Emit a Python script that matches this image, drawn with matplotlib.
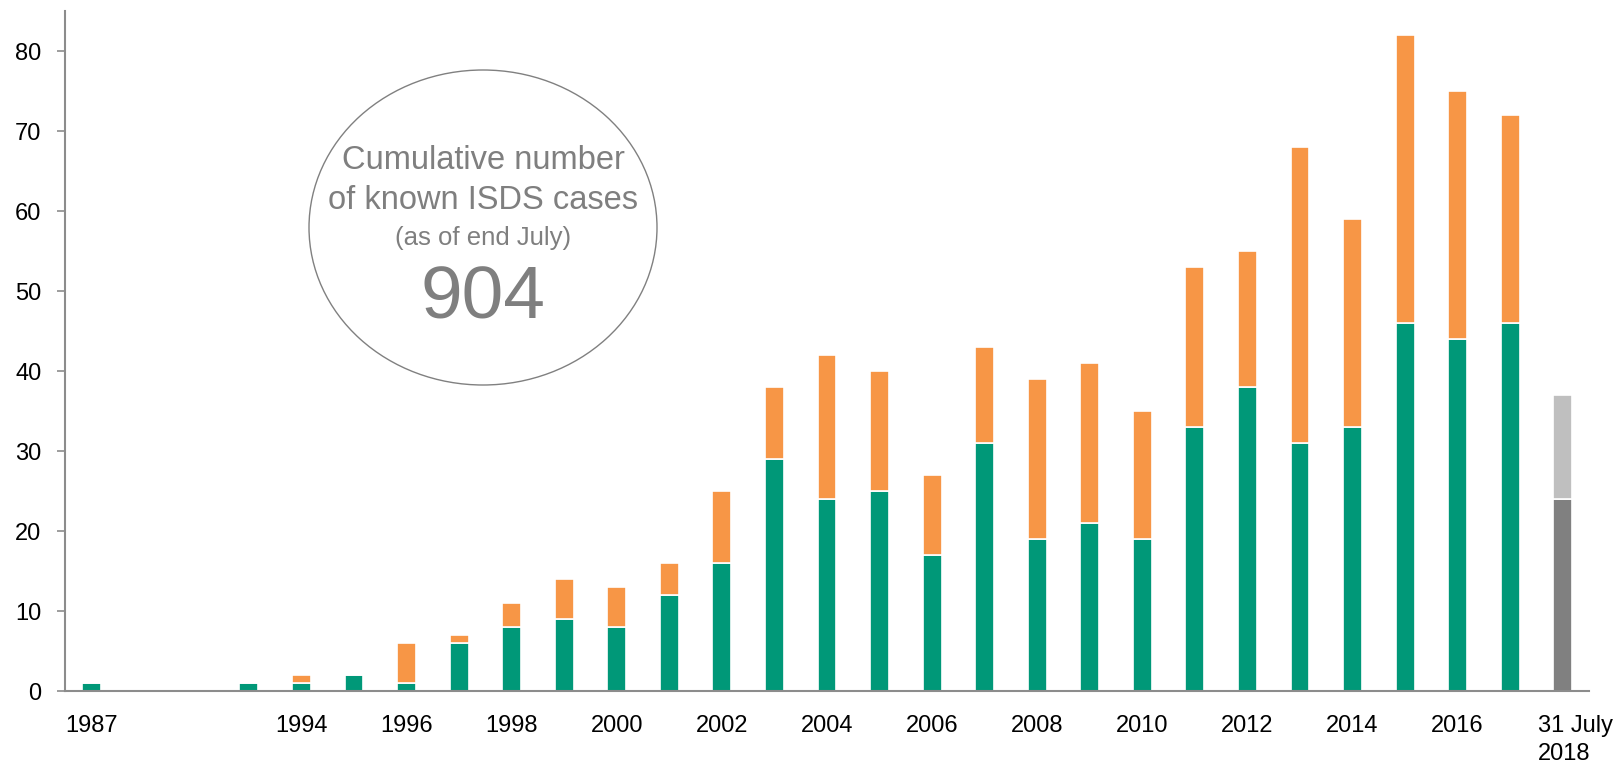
import matplotlib
matplotlib.use("Agg")
import matplotlib.pyplot as plt
from matplotlib.patches import Ellipse
import numpy as np

# known ISDS cases per year: green = first segment, orange = remainder
years = [1987, 1993, 1994, 1995, 1996, 1997, 1998, 1999, 2000, 2001, 2002,
         2003, 2004, 2005, 2006, 2007, 2008, 2009, 2010, 2011, 2012, 2013,
         2014, 2015, 2016, 2017]
green = [1, 1, 1, 2, 1, 6, 8, 9, 8, 12, 16, 29, 24, 25, 17, 31, 19, 21, 19,
         33, 38, 31, 33, 46, 44, 46]
total = [1, 1, 2, 2, 6, 7, 11, 14, 13, 16, 25, 38, 42, 40, 27, 43, 39, 41,
         35, 53, 55, 68, 59, 82, 75, 72]
# partial year up to 31 July 2018
part_low = 24
part_total = 37

tick_years = [1987, 1994, 1996, 1998, 2000, 2002, 2004, 2006, 2008, 2010,
              2012, 2014, 2016]

GREEN = "#009878"
ORANGE = "#f79646"
DARK = "#808080"
LIGHT = "#bfbfbf"
AXIS = "#8c8c8c"

plt.rcParams['font.family'] = ['Liberation Sans', 'DejaVu Sans']


def slot(y):
    # 1987 sits three slots before 1993, the years in between are left out
    return 0 if y == 1987 else y - 1990


fig = plt.figure(figsize=(16.16, 7.65), dpi=100)
ax = fig.add_axes([65 / 1616, 1 - 691 / 765, (1589 - 65) / 1616, (691 - 11) / 765])

x = np.array([slot(y) for y in years])
green = np.array(green)
total = np.array(total)
w = 0.36

ax.bar(x, green, width=w, color=GREEN, edgecolor="white", linewidth=1.2)
ax.bar(x, total - green, bottom=green, width=w, color=ORANGE,
       edgecolor="white", linewidth=1.2)
x18 = slot(2018)
ax.bar(x18, part_low, width=w, color=DARK, edgecolor="white", linewidth=1.2)
ax.bar(x18, part_total - part_low, bottom=part_low, width=w, color=LIGHT,
       edgecolor="white", linewidth=1.2)

ax.set_xlim(-0.5, 28.5)
ax.set_ylim(0, 85)
ax.set_yticks(range(0, 81, 10))
ax.tick_params(axis='y', length=6, width=1.2, color=AXIS, pad=11,
               labelsize=17)
ax.set_xticks([slot(y) for y in tick_years])
ax.set_xticklabels([str(y) for y in tick_years])
ax.tick_params(axis='x', length=0, pad=17, labelsize=17)

ax.annotate("31 July\n2018", xy=(x18, 0), xycoords='data',
            xytext=(-18, -17), textcoords='offset points',
            ha='left', va='top', fontsize=17, linespacing=1.35)

for s in ['top', 'right']:
    ax.spines[s].set_visible(False)
for s in ['left', 'bottom']:
    ax.spines[s].set_color(AXIS)
    ax.spines[s].set_linewidth(1.5)

# callout bubble with the running total
cx = 483 / 1616
ell = Ellipse((cx, 1 - 227.5 / 765), 348 / 1616, 315 / 765,
              transform=fig.transFigure, facecolor="white",
              edgecolor="#808080", linewidth=1.0, zorder=5)
fig.patches.append(ell)
txt = dict(transform=fig.transFigure, ha='center', va='baseline',
           color="#7f7f7f", zorder=6)
fig.text(cx, 1 - 169 / 765, "Cumulative number", fontsize=23.5, **txt)
fig.text(cx, 1 - 209 / 765, "of known ISDS cases", fontsize=23.5, **txt)
fig.text(cx, 1 - 245 / 765, "(as of end July)", fontsize=18.5, **txt)
fig.text(cx, 1 - 318 / 765, "904", fontsize=54, **txt)

fig.savefig("out.png", dpi=100, facecolor="white")
